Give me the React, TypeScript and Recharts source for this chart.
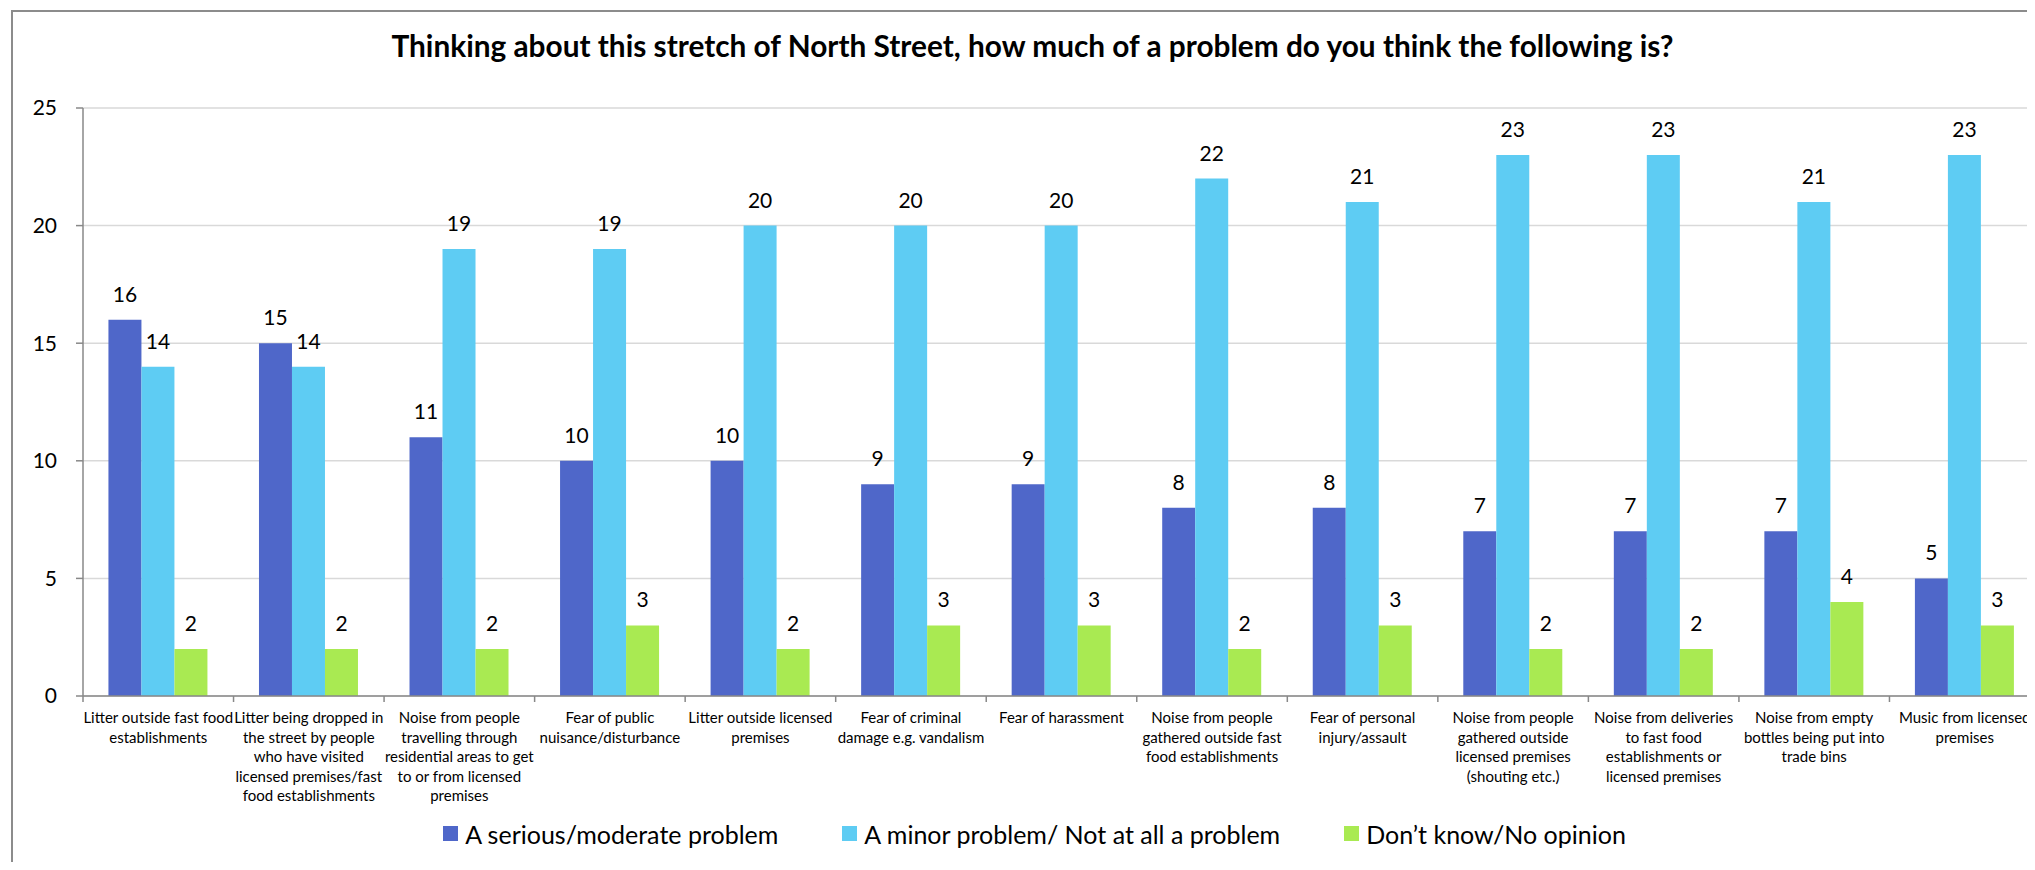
import React from 'react';
import { BarChart, Bar, XAxis, YAxis, CartesianGrid, LabelList } from 'recharts';

const title = 'Thinking about this stretch of North Street, how much of a problem do you think the following is?';

const categories = [
  'Litter outside fast food establishments',
  'Litter being dropped in the street by people who have visited licensed premises/fast food establishments',
  'Noise from people travelling through residential areas to get to or from licensed premises',
  'Fear of public nuisance/disturbance',
  'Litter outside licensed premises',
  'Fear of criminal damage e.g. vandalism',
  'Fear of harassment',
  'Noise from people gathered outside fast food establishments',
  'Fear of personal injury/assault',
  'Noise from people gathered outside licensed premises (shouting etc.)',
  'Noise from deliveries to fast food establishments or licensed premises',
  'Noise from empty bottles being put into trade bins',
  'Music from licensed premises',
];

const categoryLines = [
  ['Litter outside fast food', 'establishments'],
  ['Litter being dropped in', 'the street by people', 'who have visited', 'licensed premises/fast', 'food establishments'],
  ['Noise from people', 'travelling through', 'residential areas to get', 'to or from licensed', 'premises'],
  ['Fear of public', 'nuisance/disturbance'],
  ['Litter outside licensed', 'premises'],
  ['Fear of criminal', 'damage e.g. vandalism'],
  ['Fear of harassment'],
  ['Noise from people', 'gathered outside fast', 'food establishments'],
  ['Fear of personal', 'injury/assault'],
  ['Noise from people', 'gathered outside', 'licensed premises', '(shouting etc.)'],
  ['Noise from deliveries', 'to fast food', 'establishments or', 'licensed premises'],
  ['Noise from empty', 'bottles being put into', 'trade bins'],
  ['Music from licensed', 'premises'],
];

const seriesNames = ['A serious/moderate problem', 'A minor problem/ Not at all a problem', 'Don\u2019t know/No opinion'];
const seriousModerate = [16, 15, 11, 10, 10, 9, 9, 8, 8, 7, 7, 7, 5];
const minorNotAtAll = [14, 14, 19, 19, 20, 20, 20, 22, 21, 23, 23, 21, 23];
const dontKnow = [2, 2, 2, 3, 2, 3, 3, 2, 3, 2, 2, 4, 3];
const yTicks = [0, 5, 10, 15, 20, 25];

const colors = ['#4F67C9', '#5ECCF3', '#A9EA52'];

const data = categories.map((c, i) => ({
  category: c,
  serious: seriousModerate[i],
  minor: minorNotAtAll[i],
  dk: dontKnow[i],
}));

const FONT = "Lato, 'Open Sans', sans-serif";
const CHART_W = 2060;
const CHART_H = 860;
const MARGIN = { top: 100, right: 28, bottom: 52, left: 0 };
const Y_W = 75;
const X_H = 120;
const PLOT_W = CHART_W - MARGIN.left - MARGIN.right - Y_W;
const BAND = PLOT_W / categories.length;

const CategoryTick = (props: any) => {
  const { x, y, index } = props;
  const lines = categoryLines[index] || [];
  return (
    <g>
      <line x1={x - BAND / 2} y1={y} x2={x - BAND / 2} y2={y + 6} stroke="#888" strokeWidth={1.5} />
      {index === categories.length - 1 && (
        <line x1={x + BAND / 2} y1={y} x2={x + BAND / 2} y2={y + 6} stroke="#888" strokeWidth={1.5} />
      )}
      <text x={x} y={y} textAnchor="middle" fill="#000" fontSize={15} fontFamily={FONT}>
        {lines.map((l, i) => (
          <tspan key={i} x={x} y={y + 27 + i * 19.5}>
            {l}
          </tspan>
        ))}
      </text>
    </g>
  );
};

export default function App() {
  const keys = ['serious', 'minor', 'dk'];
  return (
    <div style={{ position: 'relative', width: 2019, height: 854, fontFamily: FONT }}>
      <style>{`html,body{overflow:hidden;}`}</style>
      <div
        style={{
          position: 'absolute',
          left: 3,
          top: 2,
          width: 2100,
          height: 900,
          border: '2px solid #8c8c8c',
          boxSizing: 'border-box',
          background: '#fff',
        }}
      />
      <svg style={{ position: 'absolute', left: 0, top: 0 }} width={2060} height={80}>
        <text x={1024.5} y={49} textAnchor="middle" fontFamily={FONT} fontWeight="bold" fontSize={29.8} fill="#000">
          {title}
        </text>
      </svg>
      <div style={{ position: 'absolute', left: 0, top: 0 }}>
        <BarChart
          width={CHART_W}
          height={CHART_H}
          data={data}
          margin={MARGIN}
          barCategoryGap="16.9%"
          barGap={0}
        >
          <CartesianGrid vertical={false} stroke="#d9d9d9" strokeWidth={1.5} />
          <XAxis
            dataKey="category"
            interval={0}
            tickLine={false}
            tickSize={0}
            tickMargin={0}
            height={X_H}
            axisLine={{ stroke: '#888', strokeWidth: 1.5 }}
            tick={<CategoryTick />}
          />
          <YAxis
            width={Y_W}
            domain={[0, 25]}
            ticks={yTicks}
            interval={0}
            tickSize={7}
            tickMargin={19}
            axisLine={{ stroke: '#888', strokeWidth: 1.5 }}
            tickLine={{ stroke: '#888', strokeWidth: 1.5 }}
            tick={{ fill: '#000', fontSize: 21, fontFamily: FONT }}
          />
          {keys.map((k, i) => (
            <Bar key={k} dataKey={k} name={seriesNames[i]} fill={colors[i]} isAnimationActive={false}>
              <LabelList dataKey={k} position="top" offset={18} fill="#000" fontSize={21} fontFamily={FONT} />
            </Bar>
          ))}
        </BarChart>
      </div>
      <div
        style={{
          position: 'absolute',
          left: 3,
          width: 2047,
          top: 818,
          height: 15,
          display: 'flex',
          justifyContent: 'center',
          alignItems: 'center',
          gap: 64,
          fontSize: 25,
          color: '#000',
          whiteSpace: 'nowrap',
        }}
      >
        {seriesNames.map((n, i) => (
          <div key={n} style={{ display: 'flex', alignItems: 'center' }}>
            <span style={{ display: 'inline-block', width: 15, height: 15, background: colors[i], marginRight: 7 }} />
            <span>{n}</span>
          </div>
        ))}
      </div>
    </div>
  );
}
